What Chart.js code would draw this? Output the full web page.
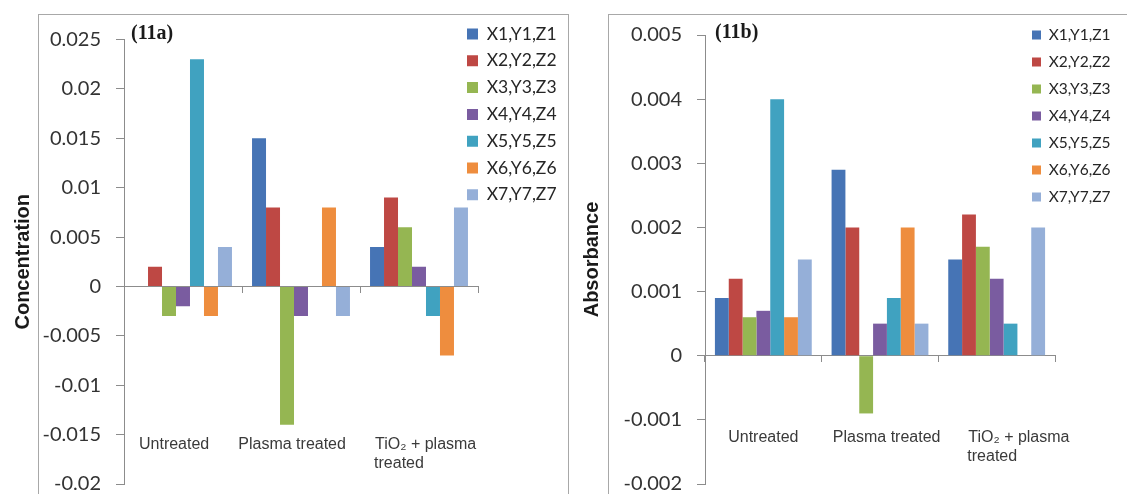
<!DOCTYPE html>
<html lang="en">
<head>
<meta charset="UTF-8">
<title>Concentration and Absorbance</title>
<script src="https://cdn.jsdelivr.net/npm/chart.js"></script>
<style>
    body { margin: 0; background: #fff; }
    #wrap { position: relative; width: 1127px; height: 494px; overflow: hidden; }
    .frame { position: absolute; top: 14px; height: 520px; box-sizing: border-box;
             border: 1.5px solid #a8a8a8; border-bottom: none; }
    #frameA { left: 38px; width: 531px; }
    #frameB { left: 608px; width: 560px; }
    /* a bit taller than the window: the figure is cut off at the bottom */
    .box { position: absolute; top: 0; height: 510px; }
</style>
</head>
<body>
<div id="wrap">
    <div class="frame" id="frameA"></div>
    <div class="frame" id="frameB"></div>
    <!-- (11a) Concentration -->
    <div class="box" style="left:0; width:570px;"><canvas id="chartA"></canvas></div>
    <!-- (11b) Absorbance -->
    <div class="box" style="left:570px; width:557px;"><canvas id="chartB"></canvas></div>
</div>

<script>
// categories on the x axis
const categories = ['Untreated', 'Plasma treated', ['TiO₂ + plasma', 'treated']];
const seriesNames = ['X1,Y1,Z1', 'X2,Y2,Z2', 'X3,Y3,Z3', 'X4,Y4,Z4', 'X5,Y5,Z5', 'X6,Y6,Z6', 'X7,Y7,Z7'];

// (11a) concentration, per series: [Untreated, Plasma treated, TiO2 + plasma treated]
const concX1 = [0, 0.015, 0.004];
const concX2 = [0.002, 0.008, 0.009];
const concX3 = [-0.003, -0.014, 0.006];
const concX4 = [-0.002, -0.003, 0.002];
const concX5 = [0.023, 0, -0.003];
const concX6 = [-0.003, 0.008, -0.007];
const concX7 = [0.004, -0.003, 0.008];

// (11b) absorbance, same order
const absX1 = [0.0009, 0.0029, 0.0015];
const absX2 = [0.0012, 0.002, 0.0022];
const absX3 = [0.0006, -0.0009, 0.0017];
const absX4 = [0.0007, 0.0005, 0.0012];
const absX5 = [0.004, 0.0009, 0.0005];
const absX6 = [0.0006, 0.002, 0];
const absX7 = [0.0015, 0.0005, 0.002];

// y tick labels
const concTicks = [-0.02, -0.015, -0.01, -0.005, 0, 0.005, 0.01, 0.015, 0.02, 0.025];
const absTicks = [-0.002, -0.001, 0, 0.001, 0.002, 0.003, 0.004, 0.005];

const seriesColors = ['#4674B5', '#BE4844', '#95B652', '#7A5CA0', '#40A2C0', '#EE8D3E', '#95AFD8'];

const axisGray = '#8c8c8c';
const catFont = { family: '"Liberation Sans", Arial, sans-serif', size: 16 };

// category labels in the original sit a little off-centre (px, + = right)
const labelNudgeA = [-8, -10, 7];
const labelNudgeB = [0, 6, 22];

const measure = document.createElement('canvas').getContext('2d');
measure.font = catFont.size + 'px ' + catFont.family;

// flush-left the wrapped lines, then nudge the label with spaces
function shapeLabel(label, nudge) {
    const lines = Array.isArray(label) ? label : [label];
    const sp = measure.measureText(' ').width;
    const w = Math.max(...lines.map(l => measure.measureText(l).width));
    const n = Math.round(Math.abs(nudge) * 2 / sp);
    const out = lines.map(l => {
        const s = l + ' '.repeat(Math.max(0, Math.round((w - measure.measureText(l).width) / sp)));
        return nudge > 0 ? ' '.repeat(n) + s : s + ' '.repeat(n);
    });
    return out.length === 1 ? out[0] : out;
}

// move the legend to a fixed spot (box left x, first row centre y)
const legendSpot = {
    id: 'legendSpot',
    afterLayout(chart, args, opts) {
        const lg = chart.legend;
        if (!lg) return;
        const left = opts.x - opts.pad;
        const top = opts.y - opts.pad - opts.size / 2;
        lg.right += left - lg.left;
        lg.left = left;
        lg.bottom += top - lg.top;
        lg.top = top;
    }
};

// "(11a)" / "(11b)" tag in the top-left corner of the plot
const panelTag = {
    id: 'panelTag',
    afterDraw(chart, args, opts) {
        const ctx = chart.ctx;
        ctx.save();
        ctx.font = 'bold 20px "Liberation Serif", "Times New Roman", serif';
        ctx.fillStyle = '#1a1a1a';
        ctx.textBaseline = 'middle';
        ctx.fillText(opts.text, chart.chartArea.left + opts.dx, opts.y);
        ctx.restore();
    }
};

function makeChart(id, p) {
    const ctx = document.getElementById(id).getContext('2d');
    new Chart(ctx, {
        type: 'bar',
        data: {
            labels: categories,
            datasets: p.series.map((d, i) => ({
                label: seriesNames[i],
                data: d,
                xAxisID: 'x',
                backgroundColor: seriesColors[i],
                borderWidth: 0
            }))
        },
        options: {
            responsive: true,
            maintainAspectRatio: false,
            animation: false,
            datasets: { bar: { barPercentage: 1, categoryPercentage: 0.83 } },
            layout: { padding: p.padding },
            scales: {
                // zero line with the category tick marks
                x: {
                    type: 'category',
                    axis: 'x',
                    position: { y: 0 },
                    offset: true,
                    grid: { display: true, offset: true, drawOnChartArea: false, drawTicks: true, tickLength: 6, color: axisGray },
                    border: { display: true, color: axisGray, width: 1 },
                    ticks: { display: false }
                },
                // category names, set low in the plot
                x2: {
                    type: 'category',
                    axis: 'x',
                    position: { y: p.labelAt },
                    offset: true,
                    grid: { display: false, drawTicks: false },
                    border: { display: false },
                    ticks: {
                        color: '#3a3a3a',
                        font: catFont,
                        padding: p.labelPad,
                        maxRotation: 0,
                        autoSkip: false,
                        callback: function (v, i) { return shapeLabel(this.getLabelForValue(v), p.nudge[i]); }
                    }
                },
                y: {
                    min: p.ticks[0],
                    max: p.ticks[p.ticks.length - 1],
                    afterBuildTicks: s => { s.ticks = p.ticks.map(v => ({ value: v })); },
                    afterFit: s => { s.width = p.yWidth; },
                    grid: { drawOnChartArea: false, drawTicks: true, tickLength: 8, color: axisGray },
                    border: { color: axisGray, width: 1 },
                    ticks: {
                        padding: 15,
                        color: '#333333',
                        font: { family: 'Lato, sans-serif', size: 20, lineHeight: 1.1 },
                        callback: v => String(+Number(v).toFixed(4))
                    },
                    title: {
                        display: true,
                        text: p.yTitle,
                        color: '#1a1a1a',
                        font: { family: '"Liberation Sans", Arial, sans-serif', size: 20, weight: 'bold' },
                        padding: { top: p.titlePad, bottom: 0 }
                    }
                }
            },
            plugins: {
                tooltip: { enabled: false },
                legend: {
                    position: 'chartArea',
                    fullSize: false,
                    align: 'start',
                    labels: {
                        boxWidth: p.legendBox,
                        boxHeight: p.legendBox,
                        padding: p.legendPad,
                        color: '#262626',
                        font: { family: 'Lato, sans-serif', size: p.legendSize }
                    }
                },
                legendSpot: { x: p.legendX, y: p.legendY, pad: p.legendPad, size: p.legendSize },
                panelTag: { text: p.tag, dx: p.tagDx, y: p.tagY }
            }
        },
        plugins: [legendSpot, panelTag]
    });
}

// 第一張圖 (11a)
makeChart('chartA', {
    series: [concX1, concX2, concX3, concX4, concX5, concX6, concX7],
    ticks: concTicks,
    yTitle: 'Concentration',
    padding: { left: 0, top: 39.5, right: 92, bottom: 11 },
    yWidth: 124,
    titlePad: 11,
    labelAt: -0.015,
    labelPad: 0,
    nudge: labelNudgeA,
    legendX: 467, legendY: 34, legendBox: 11, legendPad: 9.3, legendSize: 17.5,
    tag: '(11a)', tagDx: 7, tagY: 34
});

// 第二張圖 (11b)
makeChart('chartB', {
    series: [absX1, absX2, absX3, absX4, absX5, absX6, absX7],
    ticks: absTicks,
    yTitle: 'Absorbance',
    padding: { left: 0, top: 35, right: 72, bottom: 11 },
    yWidth: 135,
    titlePad: 10,
    labelAt: -0.001,
    labelPad: 8,
    nudge: labelNudgeB,
    legendX: 462, legendY: 35, legendBox: 9, legendPad: 11.5, legendSize: 15.5,
    tag: '(11b)', tagDx: 10, tagY: 33
});
</script>
</body>
</html>
